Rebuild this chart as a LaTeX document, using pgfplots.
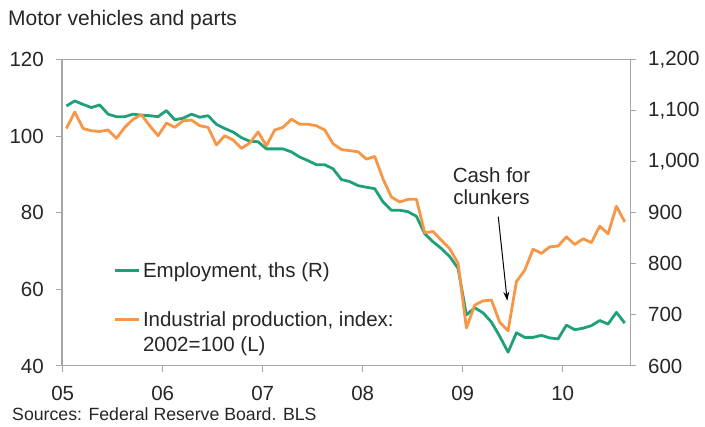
\documentclass[border=0pt]{standalone}
\usepackage{fontspec}
\setmainfont{Liberation Sans}
\usepackage{pgfplots}
\usepackage{pgfplotstable}
\pgfplotsset{compat=1.18}
\usetikzlibrary{arrows.meta}
\definecolor{empgreen}{RGB}{30,160,120}
\definecolor{iporange}{RGB}{247,150,70}
\definecolor{axgray}{RGB}{166,166,166}
\definecolor{txt}{RGB}{38,38,38}

\pgfplotstableread{
m L R
0 102.0 1109
1 106.3 1119
2 102.0 1112
3 101.4 1106
4 101.2 1111
5 101.6 1093
6 99.4 1088
7 102.3 1088
8 104.4 1093
9 105.6 1091
10 102.7 1090
11 100.1 1088
12 103.4 1100
13 102.3 1082
14 104.0 1085
15 104.2 1093
16 102.7 1087
17 102.3 1090
18 97.7 1073
19 100.1 1065
20 99.0 1058
21 96.8 1047
22 98.2 1040
23 101.1 1039
24 97.5 1025
25 101.6 1025
26 102.3 1025
27 104.4 1019
28 103.1 1009
29 103.1 1002
30 102.7 994
31 101.6 994
32 98.0 986
33 96.5 965
34 96.2 961
35 95.9 953
36 94.0 950
37 94.7 947
38 88.8 921
39 84.1 905
40 82.8 905
41 83.5 902
42 83.5 893
43 74.8 859
44 75.1 843
45 72.8 830
46 70.6 814
47 66.8 791
48 49.9 700
49 55.9 714
50 57.0 704
51 57.2 686
52 51.4 658
53 49.2 627
54 62.0 665
55 65.0 656
56 70.5 656
57 69.4 660
58 71.1 655
59 71.3 653
60 73.7 680
61 71.7 671
62 73.2 674
63 72.2 679
64 76.5 689
65 74.5 682
66 81.7 705
67 77.6 684
}\data

\begin{document}
\begin{tikzpicture}
\useasboundingbox (-62pt,-61pt) rectangle (643pt,366pt);
\begin{axis}[
  at={(0pt,0pt)}, anchor=south west, scale only axis,
  width=568pt, height=306.5pt,
  xmin=-0.08, xmax=68.08, ymin=600, ymax=1200,
  xtick={0,12,24,36,48,60}, xticklabels={05,06,07,08,09,10},
  ytick={600,700,...,1200},
  xtick pos=bottom, ytick pos=right, yticklabel pos=right,
  tick align=outside, major tick length=6pt,
  axis line style={axgray, line width=1pt},
  tick style={axgray, line width=1pt},
  every tick label/.append style={font=\fontsize{20.5}{24}\selectfont, text=txt, inner sep=0pt},
  xticklabel style={yshift=-14pt},
  yticklabel style={xshift=12pt},
  /pgf/number format/1000 sep={,},
  /pgf/number format/assume math mode=true,
]
\addplot[empgreen, line width=2.8pt, line join=round] table[x expr=\thisrow{m}+0.45, y=R]{\data};
\end{axis}
\begin{axis}[
  at={(0pt,0pt)}, anchor=south west, scale only axis,
  width=568pt, height=306.5pt,
  xmin=-0.08, xmax=68.08, ymin=40, ymax=120,
  axis x line=none, axis y line*=left,
  ytick={40,60,...,120},
  tick align=outside, major tick length=6pt,
  axis line style={axgray, line width=1pt},
  tick style={axgray, line width=1pt},
  every tick label/.append style={font=\fontsize{20.5}{24}\selectfont, text=txt, inner sep=0pt},
  yticklabel style={xshift=-12pt},
  /pgf/number format/assume math mode=true,
  legend style={at={(0.0898,0.3535)}, anchor=north west, draw=none, fill=none,
    inner sep=0pt, row sep=0pt, font=\fontsize{20.5}{24}\selectfont, text=txt,
    nodes={inner sep=0pt, text height=19.7pt, text depth=5pt}},
  legend cell align=left,
  legend image code/.code={\draw[#1] (0pt,0pt) -- (24pt,0pt);},
  /tikz/every odd column/.append style={column sep=3pt},
]
\addlegendimage{empgreen, line width=2.8pt}
\addlegendentry{Employment, ths (R)}
\addlegendimage{empty legend}
\addlegendentry{}
\addplot[iporange, line width=2.8pt, line join=round] table[x expr=\thisrow{m}+0.45, y=L]{\data};
\addlegendentry{Industrial production, index:}
\addlegendimage{empty legend}
\addlegendentry{2002=100 (L)}
\node[anchor=base, font=\fontsize{20.5}{24}\selectfont, text=txt, inner sep=0pt] at (axis cs:51.46,87.84) {Cash for};
\node[anchor=base, font=\fontsize{20.5}{24}\selectfont, text=txt, inner sep=0pt] at (axis cs:51.46,82.2) {clunkers};
\draw[-{Stealth[length=9pt,width=6pt]}, line width=1pt, black] (axis cs:52.27,78.97) -- (axis cs:53.35,57.04);
\end{axis}
\node[anchor=base west, font=\fontsize{21}{25}\selectfont, text=txt, inner sep=0pt] at (-54pt,340pt) {Motor vehicles and parts};
\node[anchor=base west, font=\fontsize{17.7}{21}\selectfont, text=txt, inner sep=0pt] at (-50pt,-55pt) {Sources: Federal Reserve Board. BLS};
\end{tikzpicture}
\end{document}
